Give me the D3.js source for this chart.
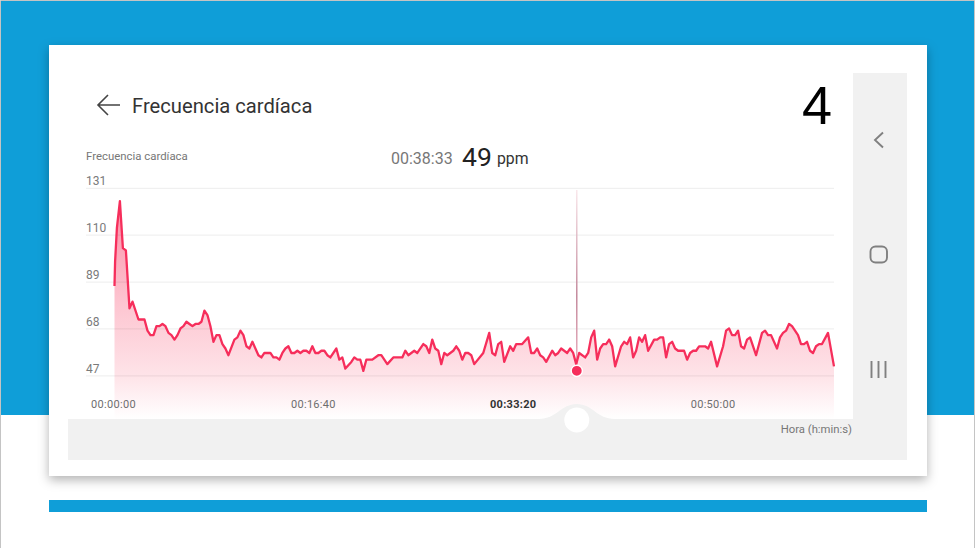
<!DOCTYPE html>
<html>
<head>
<meta charset="utf-8">
<script src="https://cdn.jsdelivr.net/npm/d3@7"></script>
<style>
	html, body { margin: 0; padding: 0; background: #fff; overflow: hidden; }
	text { font-family: Roboto, sans-serif; }
</style>
</head>
<body>
<svg id="chart" width="975" height="548"></svg>
<script>
	var timesSec = [
		0, 3, 12, 27, 42, 57, 75, 90, 120, 150, 165, 180, 195, 210, 225, 240, 255, 270, 285, 300,
		315, 330, 345, 360, 375, 390, 405, 420, 435, 450, 465, 480, 495, 510, 525, 540, 555, 570, 600, 615,
		630, 645, 660, 675, 690, 705, 720, 735, 750, 780, 795, 810, 825, 840, 855, 870, 885, 900, 915, 930,
		945, 960, 975, 990, 1005, 1020, 1035, 1050, 1065, 1080, 1110, 1125, 1140, 1155, 1185, 1200, 1215, 1230, 1245, 1260,
		1290, 1320, 1335, 1365, 1395, 1440, 1455, 1470, 1500, 1515, 1545, 1560, 1575, 1590, 1605, 1620, 1635, 1650, 1665, 1695,
		1710, 1725, 1740, 1755, 1770, 1785, 1800, 1845, 1875, 1890, 1905, 1920, 1935, 1950, 1980, 1995, 2010, 2040, 2070, 2085,
		2100, 2115, 2130, 2145, 2160, 2190, 2205, 2220, 2235, 2265, 2280, 2295, 2310, 2325, 2355, 2370, 2385, 2400, 2415, 2430,
		2445, 2460, 2475, 2490, 2505, 2535, 2550, 2565, 2580, 2595, 2610, 2625, 2640, 2655, 2670, 2700, 2715, 2730, 2745, 2760,
		2775, 2790, 2805, 2820, 2850, 2865, 2880, 2895, 2910, 2925, 2955, 2970, 2985, 3015, 3045, 3060, 3075, 3090, 3105, 3120,
		3135, 3150, 3165, 3180, 3210, 3240, 3255, 3270, 3285, 3315, 3330, 3345, 3360, 3375, 3390, 3420, 3435, 3450, 3465, 3480,
		3495, 3510, 3525, 3540, 3570, 3600
	];
	var bpm = [
		87, 98, 113, 125, 104, 103, 77, 80, 72, 72, 67, 65, 65, 69, 69, 70, 69, 66, 65, 63,
		65, 68, 69, 71, 70, 69, 70, 70, 71, 76, 74, 69, 62, 65, 65, 61, 59, 56, 63, 64,
		67, 65, 60, 59, 62, 59, 56, 55, 57, 57, 55, 55, 54, 57, 59, 60, 57, 57, 58, 57,
		58, 58, 57, 60, 57, 57, 58, 58, 56, 55, 59, 54, 55, 50, 53, 55, 54, 54, 49, 54,
		54, 56, 56, 52, 55, 55, 58, 56, 58, 57, 61, 60, 57, 63, 59, 58, 52, 57, 56, 58,
		60, 58, 54, 57, 57, 56, 52, 57, 66, 57, 56, 61, 62, 53, 60, 58, 61, 61, 64, 57,
		57, 59, 56, 55, 53, 58, 56, 57, 59, 57, 59, 57, 52, 57, 55, 57, 64, 67, 54, 59,
		61, 61, 63, 60, 51, 60, 62, 61, 64, 55, 58, 64, 62, 65, 58, 63, 63, 64, 64, 55,
		61, 62, 59, 58, 58, 54, 57, 58, 58, 60, 60, 59, 62, 51, 60, 67, 68, 65, 65, 67,
		60, 59, 63, 64, 56, 66, 67, 65, 65, 59, 64, 66, 67, 70, 69, 65, 61, 61, 62, 58,
		57, 60, 61, 61, 66, 51
	];
	var yTicks = [47, 68, 89, 110, 131];
	var xTicks = [0, 1000, 2000, 3000];
	var xTickLabels = ["00:00:00", "00:16:40", "00:33:20", "00:50:00"];
	var boldTick = 2000;
	var selectedTime = 2313;
	var selectedLabel = "00:38:33";
	var selectedBpm = 49;

	var svg = d3.select("#chart");
	var defs = svg.append("defs");

	var x = d3.scaleLinear().domain([0, 3600]).range([114.5, 834]);
	var y = d3.scaleLinear().domain([47, 131]).range([375.3, 187.8]);

	// page background
	svg.append("rect").attr("x", 1).attr("y", 1).attr("width", 973).attr("height", 414).attr("fill", "#0f9ed8");
	svg.append("path").attr("d", "M0.5,548V0.5H974.5V548").attr("fill", "none").attr("stroke", "#c4c4c4");
	svg.append("rect").attr("x", 49).attr("y", 500).attr("width", 878).attr("height", 12).attr("fill", "#0f9ed8");

	var shadow = defs.append("filter").attr("id", "cardShadow")
		.attr("x", "-5%").attr("y", "-5%").attr("width", "110%").attr("height", "115%");
	shadow.append("feDropShadow").attr("dx", 0).attr("dy", 4).attr("stdDeviation", 5.5)
		.attr("flood-color", "#000").attr("flood-opacity", 0.3);
	svg.append("rect").attr("x", 49).attr("y", 45).attr("width", 878).attr("height", 431)
		.attr("fill", "#fff").attr("filter", "url(#cardShadow)");

	// gray phone bars
	svg.append("rect").attr("x", 853).attr("y", 73).attr("width", 54).attr("height", 387).attr("fill", "#f1f1f1");

	var areaFill = defs.append("linearGradient").attr("id", "areaFill")
		.attr("gradientUnits", "userSpaceOnUse")
		.attr("x1", 0).attr("x2", 0).attr("y1", 200).attr("y2", 419);
	areaFill.append("stop").attr("offset", 0).attr("stop-color", "#fb8ba4");
	areaFill.append("stop").attr("offset", 0.45).attr("stop-color", "#fdc3cf");
	areaFill.append("stop").attr("offset", 0.8).attr("stop-color", "#fee3e8");
	areaFill.append("stop").attr("offset", 1).attr("stop-color", "#ffffff");

	var cursorFill = defs.append("linearGradient").attr("id", "cursorFill")
		.attr("gradientUnits", "userSpaceOnUse")
		.attr("x1", 0).attr("x2", 0).attr("y1", 190).attr("y2", 366);
	cursorFill.append("stop").attr("offset", 0).attr("stop-color", "#f9e6ea");
	cursorFill.append("stop").attr("offset", 0.6).attr("stop-color", "#c08296");
	cursorFill.append("stop").attr("offset", 1).attr("stop-color", "#e9a9ba");

	var points = timesSec.map(function(t, i) { return [t, bpm[i]]; });

	var area = d3.area()
		.x(function(d) { return x(d[0]); })
		.y0(419)
		.y1(function(d) { return y(d[1]); });
	var line = d3.line()
		.x(function(d) { return x(d[0]); })
		.y(function(d) { return y(d[1]); });

	svg.append("path").datum(points).attr("d", area).attr("fill", "url(#areaFill)");

	// y axis, the ticks double as grid lines
	var yAxis = svg.append("g").attr("transform", "translate(86,0)")
		.call(d3.axisRight(y).tickValues(yTicks).tickSize(748));
	yAxis.select(".domain").remove();
	yAxis.selectAll("line").attr("stroke", "#000").attr("stroke-opacity", 0.06).attr("stroke-width", 1.2);
	yAxis.selectAll("text")
		.attr("x", 0).attr("dy", "-0.25em").attr("text-anchor", "start")
		.attr("fill", "#7a7a7a").attr("font-size", 12).attr("font-family", "Roboto, sans-serif");

	svg.append("rect").attr("x", x(selectedTime) - 0.7).attr("y", 190).attr("width", 1.4).attr("height", 176)
		.attr("fill", "url(#cursorFill)");

	svg.append("path").datum(points).attr("d", line)
		.attr("fill", "none").attr("stroke", "#f62e5b").attr("stroke-width", 2.3).attr("stroke-linejoin", "round");

	// bottom bar with the slider bump
	var sx = x(selectedTime);
	svg.append("path")
		.attr("d", "M68,419H" + (sx - 38) + "C" + (sx - 20) + ",419 " + (sx - 16) + ",404 " + sx + ",404"
			+ "C" + (sx + 16) + ",404 " + (sx + 20) + ",419 " + (sx + 38) + ",419H853V460H68Z")
		.attr("fill", "#f1f1f1");
	svg.append("circle").attr("cx", sx).attr("cy", 420).attr("r", 12.5).attr("fill", "#fff");

	var xAxis = svg.append("g").attr("transform", "translate(0,404.5)")
		.call(d3.axisBottom(x).tickValues(xTicks).tickSize(0)
			.tickFormat(function(d, i) { return xTickLabels[i]; }));
	xAxis.select(".domain").remove();
	xAxis.selectAll("text")
		.attr("y", 0).attr("dy", "0.35em").attr("dx", -1.5)
		.attr("fill", function(d) { return d === boldTick ? "#333" : "#6e6e6e"; })
		.attr("font-weight", function(d) { return d === boldTick ? "700" : "400"; })
		.attr("font-size", 11).attr("letter-spacing", 0.3).attr("font-family", "Roboto, sans-serif");

	svg.append("circle").attr("cx", sx).attr("cy", y(selectedBpm)).attr("r", 5.6)
		.attr("fill", "#f62e5b").attr("stroke", "#fff").attr("stroke-width", 1.4);

	// header
	svg.append("path").attr("d", "M120,105H98M108,95L98,105L108,115")
		.attr("fill", "none").attr("stroke", "#444").attr("stroke-width", 1.6);
	svg.append("text").attr("x", 132).attr("y", 112.5).attr("font-size", 20.2).attr("fill", "#333")
		.text("Frecuencia cardíaca");
	svg.append("text").attr("x", 86).attr("y", 160).attr("font-size", 11.4).attr("fill", "#777")
		.text("Frecuencia cardíaca");
	svg.append("text").attr("x", 391).attr("y", 164).attr("font-size", 16).attr("fill", "#777")
		.text(selectedLabel);
	svg.append("text").attr("x", 462).attr("y", 165.5).attr("font-size", 26.5).attr("fill", "#222")
		.text(selectedBpm);
	svg.append("text").attr("x", 497).attr("y", 164).attr("font-size", 15.8).attr("fill", "#333")
		.text("ppm");
	svg.append("text").attr("x", 852).attr("y", 433).attr("text-anchor", "end").attr("font-size", 11.3).attr("fill", "#777")
		.text("Hora (h:min:s)");
	svg.append("text").attr("x", 817).attr("y", 124).attr("text-anchor", "middle")
		.attr("font-size", 54).attr("fill", "#000").style("font-family", "'Liberation Sans', sans-serif")
		.text("4");

	// phone nav icons
	svg.append("path").attr("d", "M883,132.5L875,140L883,147.5")
		.attr("fill", "none").attr("stroke", "#808080").attr("stroke-width", 1.9);
	svg.append("rect").attr("x", 870.5).attr("y", 246.5).attr("width", 16.5).attr("height", 16).attr("rx", 5)
		.attr("fill", "none").attr("stroke", "#808080").attr("stroke-width", 1.9);
	svg.append("path").attr("d", "M871.5,361V378M878.5,361V378M885.5,361V378")
		.attr("fill", "none").attr("stroke", "#808080").attr("stroke-width", 1.9);
</script>
</body>
</html>
